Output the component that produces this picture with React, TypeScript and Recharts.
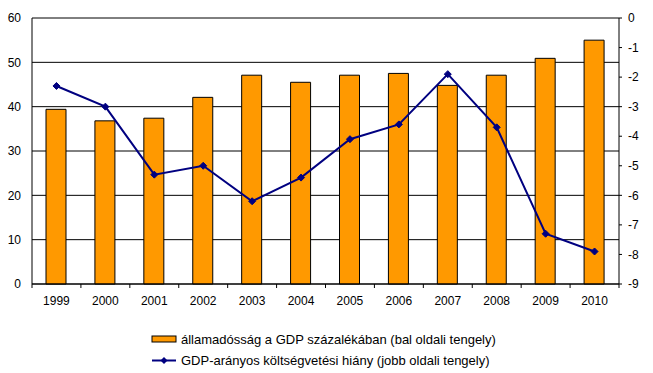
import React from "react";
import {
  ComposedChart,
  Bar,
  Line,
  XAxis,
  YAxis,
  CartesianGrid,
  Legend,
} from "recharts";

const years = ["1999", "2000", "2001", "2002", "2003", "2004", "2005", "2006", "2007", "2008", "2009", "2010"];
const debtPct = [39.4, 36.8, 37.4, 42.1, 47.1, 45.5, 47.1, 47.5, 44.8, 47.1, 50.9, 55.0];
const deficitPct = [-2.3, -3.0, -5.3, -5.0, -6.2, -5.4, -4.1, -3.6, -1.9, -3.7, -7.3, -7.9];
const leftTicks = [0, 10, 20, 30, 40, 50, 60];
const rightTicks = [-9, -8, -7, -6, -5, -4, -3, -2, -1, 0];
const seriesNames = [
  "államadósság a GDP százalékában (bal oldali tengely)",
  "GDP-arányos költségvetési hiány (jobb oldali tengely)",
];

const data = years.map((y, i) => ({ year: y, debt: debtPct[i], deficit: deficitPct[i] }));

const FONT = "'Liberation Sans', Arial, sans-serif";
const ORANGE = "#FF9900";
const NAVY = "#000080";

const Diamond = (props: any) => {
  const { cx, cy } = props;
  if (cx == null || cy == null) return null;
  const r = 3.5;
  return (
    <polygon
      points={`${cx},${cy - r} ${cx + r},${cy} ${cx},${cy + r} ${cx - r},${cy}`}
      fill={NAVY}
      stroke={NAVY}
      strokeWidth={1}
    />
  );
};

const XTick = (props: any) => {
  const { x, y, payload, index, width, visibleTicksCount } = props;
  const bw = width / (visibleTicksCount || years.length);
  const left = x - bw / 2;
  return (
    <g>
      <line x1={left} y1={y} x2={left} y2={y + 4} stroke="#000" strokeWidth={1} />
      {index === (visibleTicksCount || years.length) - 1 ? (
        <line x1={x + bw / 2} y1={y} x2={x + bw / 2} y2={y + 4} stroke="#000" strokeWidth={1} />
      ) : null}
      <text x={x} y={y + 12} dy="0.71em" textAnchor="middle" fontSize={12} fontFamily={FONT} fill="#000">
        {payload.value}
      </text>
    </g>
  );
};

const LegendContent = () => (
  <svg width={400} height={44} style={{ display: "block" }}>
    <rect x={2} y={6} width={24} height={6} fill={ORANGE} stroke="#000" strokeWidth={1} />
    <text x={31} y={9} dy="0.35em" fontSize={13} fontFamily={FONT} fill="#000">
      {seriesNames[0]}
    </text>
    <line x1={2} y1={30.5} x2={26} y2={30.5} stroke={NAVY} strokeWidth={2} />
    <polygon points="14,27 17.5,30.5 14,34 10.5,30.5" fill={NAVY} />
    <text x={31} y={30.5} dy="0.35em" fontSize={13} fontFamily={FONT} fill="#000">
      {seriesNames[1]}
    </text>
  </svg>
);

export default function App() {
  return (
    <div style={{ width: 653, height: 373, background: "#fff" }}>
      <style>{"body{margin:0;}"}</style>
      <ComposedChart
        width={653}
        height={373}
        data={data}
        margin={{ top: 18, right: 0, bottom: 59, left: 0 }}
        barCategoryGap={0}
      >
        <CartesianGrid yAxisId="left" vertical={false} stroke="#000" strokeWidth={1} />
        <XAxis
          dataKey="year"
          height={30}
          interval={0}
          tickLine={false}
          tickSize={0}
          tickMargin={0}
          axisLine={{ stroke: "#000", strokeWidth: 1 }}
          tick={<XTick />}
        />
        <YAxis
          yAxisId="left"
          orientation="left"
          width={32}
          domain={[0, 60]}
          ticks={leftTicks}
          interval={0}
          tickLine={false}
          tickMargin={5}
          axisLine={{ stroke: "#000", strokeWidth: 1 }}
          tick={{ fontSize: 12, fontFamily: FONT, fill: "#000" }}
        />
        <YAxis
          yAxisId="right"
          orientation="right"
          width={34}
          domain={[-9, 0]}
          ticks={rightTicks}
          interval={0}
          tickSize={3}
          tickMargin={6}
          tickLine={{ stroke: "#000", strokeWidth: 1 }}
          axisLine={{ stroke: "#000", strokeWidth: 1 }}
          tick={{ fontSize: 12, fontFamily: FONT, fill: "#000", textAnchor: "start" }}
        />
        <Bar
          yAxisId="left"
          dataKey="debt"
          name={seriesNames[0]}
          fill={ORANGE}
          stroke="#000"
          strokeWidth={1}
          barSize={20}
          isAnimationActive={false}
        />
        <Line
          yAxisId="right"
          dataKey="deficit"
          name={seriesNames[1]}
          stroke={NAVY}
          strokeWidth={2}
          dot={<Diamond />}
          activeDot={false}
          type="linear"
          isAnimationActive={false}
        />
        <Legend
          layout="horizontal"
          verticalAlign="middle"
          align="center"
          content={<LegendContent />}
          wrapperStyle={{ position: "absolute", left: 150, top: 330, width: 400, height: 44 }}
        />
      </ComposedChart>
    </div>
  );
}
